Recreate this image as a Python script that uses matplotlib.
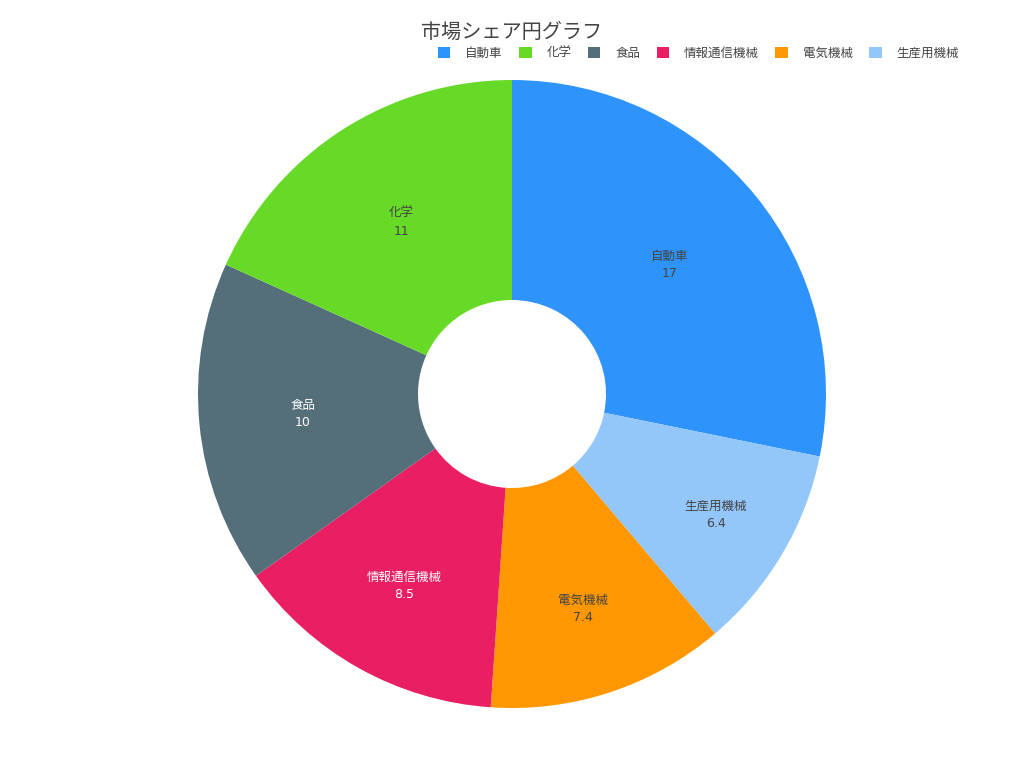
import matplotlib
matplotlib.use("Agg")
import matplotlib.pyplot as plt
from matplotlib.patches import Patch
import numpy as np

plt.rcParams['font.family'] = ['DejaVu Sans', 'Noto Sans CJK JP']

# 凡例の順番 (値の大きい順)
labels = ["自動車", "化学", "食品", "情報通信機械", "電気機械", "生産用機械"]
values = [17, 11, 10, 8.5, 7.4, 6.4]
colors = ["#2E93FA", "#66DA26", "#546E7A", "#E91E63", "#FF9800", "#93C6F9"]
text_colors = ["#444444", "#444444", "#ffffff", "#ffffff", "#444444", "#444444"]
# ラベルの半径方向の位置 (外径に対する比)
label_r = [0.65, 0.65, 0.67, 0.70, 0.72, 0.755]

# 時計回りの描画順
order = [0, 5, 4, 3, 2, 1]

fig = plt.figure(figsize=(10.24, 7.68), dpi=100)
ax = fig.add_axes([0, 0, 1, 1])

cx, cy, R = 512, 374, 314
hole = 94
wedges, _ = ax.pie([values[i] for i in order],
                   colors=[colors[i] for i in order],
                   startangle=90, counterclock=False,
                   center=(cx, cy), radius=R, frame=True,
                   wedgeprops=dict(width=R - hole, linewidth=0))
ax.set_xlim(0, 1024)
ax.set_ylim(0, 768)
ax.set_aspect("equal")
ax.axis("off")

for w, i in zip(wedges, order):
    ang = np.deg2rad((w.theta1 + w.theta2) / 2)
    r = R * label_r[i]
    x = cx + r * np.cos(ang)
    y = cy + r * np.sin(ang)
    ax.text(x, y, f"{labels[i]}\n{values[i]:g}", ha="center", va="center",
            fontsize=9, color=text_colors[i], linespacing=1.45)

fig.text(0.5, 1 - 32 / 768, "市場シェア円グラフ", ha="center", va="center",
         fontsize=14.5, color="#444444")

handles = [Patch(facecolor=c, edgecolor="none") for c in colors]
fig.legend(handles, labels, loc="center right", bbox_to_anchor=(959 / 1024, 1 - 53 / 768),
           ncol=6, frameon=False, fontsize=9, handlelength=1.0, handleheight=1.0,
           handletextpad=1.2, columnspacing=1.3, labelcolor="#444444",
           borderaxespad=0, borderpad=0)

fig.savefig("out.png", dpi=100, facecolor="white")
